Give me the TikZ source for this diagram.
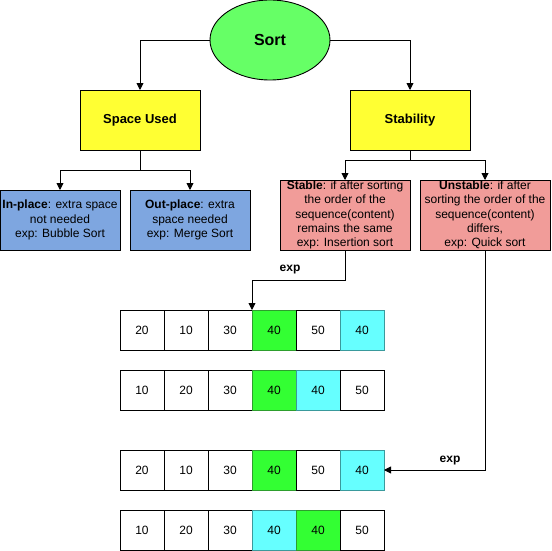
\documentclass[tikz,border=0pt]{standalone}
\usepackage{fontspec}
\setmainfont{Liberation Sans}
\usetikzlibrary{arrows.meta,shapes.geometric}
\definecolor{sortgreen}{HTML}{66FF66}
\definecolor{yel}{HTML}{FFFF33}
\definecolor{blu}{HTML}{7EA6E0}
\definecolor{pnk}{HTML}{F19C99}
\definecolor{cellgreen}{HTML}{33FF33}
\definecolor{cellgreenline}{HTML}{2D9E2D}
\definecolor{cellcyan}{HTML}{66FFFF}
\definecolor{cellcyanline}{HTML}{3A9A9C}
\tikzset{
  box/.style={draw=black, line width=0.9pt, inner sep=0pt, outer sep=0pt, align=center, font=\fontsize{12}{14.3}\selectfont},
  cell/.style={draw=black, line width=0.9pt, fill=white, minimum width=44pt, minimum height=40pt, inner sep=0pt, outer sep=0pt, font=\fontsize{12}{14}\selectfont},
  gcell/.style={cell, fill=cellgreen, draw=cellgreenline},
  ccell/.style={cell, fill=cellcyan, draw=cellcyanline},
  arr/.style={line width=0.9pt, -{Triangle[width=7pt,length=7pt]}},
  lbl/.style={font=\fontsize{12}{14}\selectfont\bfseries, inner sep=0pt}
}
\begin{document}
\begin{tikzpicture}[x=1pt,y=-1pt]
\useasboundingbox (0,0) rectangle (551,551);
\node[ellipse, draw=black, line width=0.9pt, fill=sortgreen, minimum width=120pt, minimum height=80pt, inner sep=0pt, outer sep=0pt, font=\fontsize{16}{18}\selectfont\bfseries] (sort) at (270,40) {Sort};
\node[box, fill=yel, minimum width=120pt, minimum height=60pt, font=\fontsize{13}{15}\selectfont\bfseries] (space) at (140,120) {Space Used};
\node[box, fill=yel, minimum width=120pt, minimum height=60pt, font=\fontsize{13}{15}\selectfont\bfseries] (stab) at (410,120) {Stability};
\node[box, fill=blu, minimum width=120pt, minimum height=60pt] (inplace) at (60,220) {\textbf{In-place}: extra space\\not needed\\exp: Bubble Sort};
\node[box, fill=blu, minimum width=120pt, minimum height=60pt] (outplace) at (190,220) {\textbf{Out-place}: extra\\space needed\\exp: Merge Sort};
\node[box, fill=pnk, minimum width=130pt, minimum height=70pt] (stable) at (345,215) {\textbf{Stable}: if after sorting\\the order of the\\sequence(content)\\remains the same\\exp: Insertion sort};
\node[box, fill=pnk, minimum width=130pt, minimum height=70pt] (unstable) at (485,215) {\textbf{Unstable}: if after\\sorting the order of the\\sequence(content)\\differs,\\exp: Quick sort};
% arrays
\node[cell] (r1c1) at (142,330) {20};
\node[cell] (r1c2) at (186,330) {10};
\node[cell] (r1c3) at (230,330) {30};
\node[gcell] (r1c4) at (274,330) {40};
\node[cell] (r1c5) at (318,330) {50};
\node[ccell] (r1c6) at (362,330) {40};
\node[cell] (r2c1) at (142,390) {10};
\node[cell] (r2c2) at (186,390) {20};
\node[cell] (r2c3) at (230,390) {30};
\node[gcell] (r2c4) at (274,390) {40};
\node[ccell] (r2c5) at (318,390) {40};
\node[cell] (r2c6) at (362,390) {50};
\node[cell] (r3c1) at (142,470) {20};
\node[cell] (r3c2) at (186,470) {10};
\node[cell] (r3c3) at (230,470) {30};
\node[gcell] (r3c4) at (274,470) {40};
\node[cell] (r3c5) at (318,470) {50};
\node[ccell] (r3c6) at (362,470) {40};
\node[cell] (r4c1) at (142,530) {10};
\node[cell] (r4c2) at (186,530) {20};
\node[cell] (r4c3) at (230,530) {30};
\node[ccell] (r4c4) at (274,530) {40};
\node[gcell] (r4c5) at (318,530) {40};
\node[cell] (r4c6) at (362,530) {50};
% connectors
\draw[arr] (sort.west) -| (space.north);
\draw[arr] (sort.east) -| (stab.north);
\draw[arr] (space.south) -- ++(0,20) -| (inplace.north);
\draw[arr] (space.south) -- ++(0,20) -| (outplace.north);
\draw[arr] (stab.south) -- ++(0,10) -| (stable.north);
\draw[arr] (stab.south) -- ++(0,10) -| (unstable.north);
\draw[arr] (stable.south) -- ++(0,30) -| (r1c4.north west);
\draw[arr] (unstable.south) |- (r3c6.east);
\node[lbl] (exp1) at (290,270) {exp};
\node[lbl] (exp2) at (450,461) {exp};
\end{tikzpicture}
\end{document}
